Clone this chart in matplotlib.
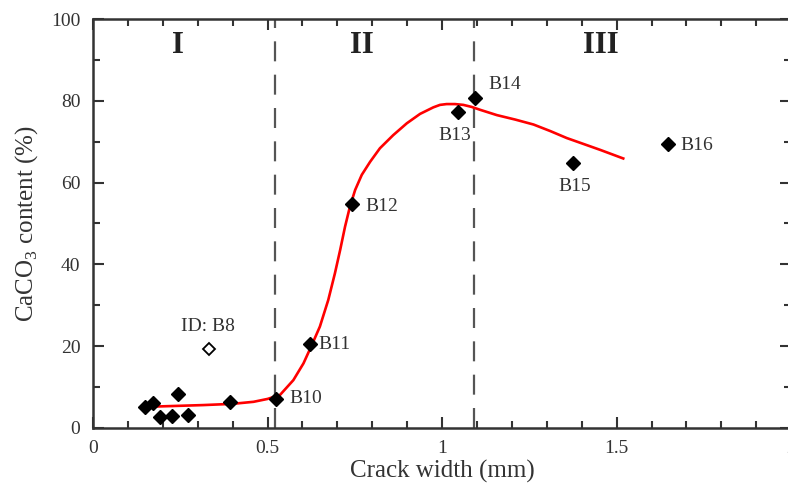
import matplotlib
matplotlib.use("Agg")
import matplotlib.pyplot as plt
from matplotlib.ticker import MultipleLocator

plt.rcParams['font.family'] = ['Liberation Serif', 'DejaVu Serif']
plt.rcParams['mathtext.fontset'] = 'custom'
plt.rcParams['mathtext.rm'] = 'Liberation Serif'

# measured samples (crack width in mm, CaCO3 content in %)
cluster_w = [0.149, 0.171, 0.192, 0.225, 0.244, 0.273, 0.393]
cluster_c = [5.2, 6.0, 2.8, 2.9, 8.2, 3.2, 6.4]

sample_ids = ["B10", "B11", "B12", "B13", "B14", "B15", "B16"]
sample_w = [0.524, 0.622, 0.741, 1.045, 1.093, 1.374, 1.646]
sample_c = [7.0, 20.5, 54.7, 77.3, 80.6, 64.9, 69.4]

# outlier, excluded from the trend
b8_w, b8_c = 0.332, 19.2

# trend line
trend_w = [0.163, 0.240, 0.316, 0.400, 0.460, 0.500, 0.536, 0.574, 0.603,
           0.627, 0.650, 0.674, 0.693, 0.708, 0.722, 0.736, 0.751, 0.770,
           0.794, 0.822, 0.860, 0.899, 0.937, 0.975, 0.994, 1.013, 1.037,
           1.061, 1.085, 1.109, 1.157, 1.210, 1.262, 1.310, 1.357, 1.410,
           1.453, 1.519]
trend_c = [5.2, 5.4, 5.6, 5.9, 6.4, 7.1, 8.1, 11.7, 15.8, 20.3, 24.8, 31.3,
           37.8, 43.5, 49.2, 54.1, 58.2, 61.9, 65.1, 68.4, 71.6, 74.5, 76.8,
           78.4, 79.0, 79.2, 79.2, 79.0, 78.5, 77.8, 76.5, 75.4, 74.2, 72.6,
           70.9, 69.3, 68.0, 65.9]

# stage boundaries and names
bounds = [0.521, 1.092]
stages = ["I", "II", "III"]
stage_w = [0.244, 0.771, 1.456]

# label placement: (dx, dy, ha)
label_pos = {
    "B10": (0.040, 0.3, "left"),
    "B11": (0.023, -0.2, "left"),
    "B12": (0.038, -0.6, "left"),
    "B13": (-0.008, -5.7, "center"),
    "B14": (0.039, 3.3, "left"),
    "B15": (0.005, -5.9, "center"),
    "B16": (0.036, -0.4, "left"),
}

txt = '#333333'
fig = plt.figure(figsize=(7.88, 4.95), dpi=100)
ax = fig.add_axes([0.118, 0.1354, 0.886, 0.8262])

for b in bounds:
    ax.axvline(b, color='#555555', lw=1.6, dashes=(9, 6), zorder=1)

ax.plot(trend_w, trend_c, color='red', lw=1.9, zorder=2,
        solid_joinstyle='round')
ax.plot(cluster_w, cluster_c, 'D', color='black', ms=7, zorder=3)
ax.plot(sample_w, sample_c, 'D', color='black', ms=7, zorder=3)
ax.plot([b8_w], [b8_c], 'D', mfc='white', mec='black', mew=1.3, ms=6.5, zorder=3)

ax.text(b8_w - 0.002, b8_c + 5.5, "ID: B8", ha='center', va='center',
        fontsize=14, color=txt)
for name, w, c in zip(sample_ids, sample_w, sample_c):
    dx, dy, ha = label_pos[name]
    ax.text(w + dx, c + dy, name, ha=ha, va='center', fontsize=14, color=txt)

for s, w in zip(stages, stage_w):
    ax.text(w, 93.4, s, ha='center', va='center', fontsize=22,
            fontweight='bold', color='#222222')

ax.set_xlim(0, 2)
ax.set_ylim(0, 100)
ax.xaxis.set_major_locator(MultipleLocator(0.5))
ax.xaxis.set_minor_locator(MultipleLocator(0.1))
ax.yaxis.set_major_locator(MultipleLocator(20))
ax.yaxis.set_minor_locator(MultipleLocator(10))
ax.xaxis.set_major_formatter(plt.FuncFormatter(lambda v, p: f"{v:g}"))

ax.tick_params(which='both', direction='in', top=True, right=True,
               width=1.5, color='#333333', labelsize=14, labelcolor=txt)
ax.tick_params(which='major', length=8, pad=9)
ax.tick_params(which='minor', length=5)
for sp in ax.spines.values():
    sp.set_linewidth(1.8)
    sp.set_color('#333333')

ax.set_xlabel("Crack width (mm)", fontsize=18, color=txt, labelpad=2)
ax.set_ylabel(r"CaCO$_3$ content (%)", fontsize=18, color=txt, labelpad=8)

fig.savefig("out.png", dpi=100)
